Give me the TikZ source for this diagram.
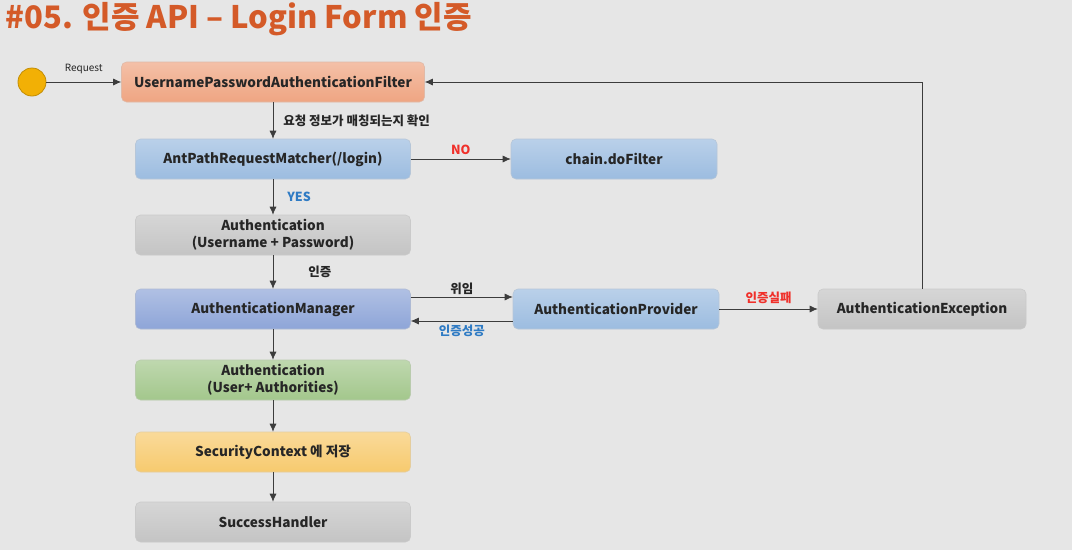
\documentclass[tikz,border=0pt]{standalone}
\usepackage{fontspec}
\setmainfont{Noto Sans CJK KR}
\usetikzlibrary{arrows.meta}
\definecolor{pagebg}{HTML}{E6E6E6}
\definecolor{titleorange}{HTML}{D45A28}
\definecolor{salmon}{HTML}{EFA582}
\definecolor{skyblue}{HTML}{9CBCE0}
\definecolor{violetblue}{HTML}{8EA5D8}
\definecolor{stone}{HTML}{C4C4C4}
\definecolor{leaf}{HTML}{A3C78C}
\definecolor{honey}{HTML}{F7CA6E}
\definecolor{sun}{HTML}{F2B005}
\definecolor{ink}{HTML}{262626}
\definecolor{wire}{HTML}{3C3C3C}
\definecolor{alert}{HTML}{F0302A}
\definecolor{okblue}{HTML}{2F7BC4}

\begin{document}
\begin{tikzpicture}[
    x=1pt, y=-1pt,
    % Box styles
    flow box/.style={
        rectangle,
        rounded corners=5pt,
        minimum width=275pt,
        minimum height=40pt,
        inner sep=0pt,
        align=center,
        font=\fontsize{13.6}{17}\selectfont\bfseries,
        text=ink
    },
    side box/.style={
        flow box,
        minimum width=206pt
    },
    tinted/.style={
        draw=#1!85!black!60,
        line width=0.6pt,
        top color=#1!70!white,
        bottom color=#1
    },
    connector/.style={
        draw=wire,
        line width=0.7pt,
        -{Latex[length=8pt,width=7pt]}
    },
    edge label/.style={
        font=\fontsize{12.5}{14}\selectfont\bfseries,
        text=ink,
        inner sep=1pt
    }
]

% Page and title
\useasboundingbox[fill=pagebg] (0,0) rectangle (1072,550);
\node[anchor=west, font=\fontsize{31}{35}\selectfont\bfseries, text=titleorange]
    (title) at (2,19) {\#05. 인증 API – Login Form 인증};

% Start point
\node[circle, draw=sun!80!black, fill=sun, line width=0.8pt, minimum size=28pt, inner sep=0pt]
    (start) at (32,82) {};

% Main column
\def\colx{273}
\node[flow box, tinted=salmon, minimum width=303pt] (filter) at (\colx,82) {UsernamePasswordAuthenticationFilter};
\node[flow box, tinted=skyblue] (matcher) at (\colx,159) {AntPathRequestMatcher(/login)};
\node[flow box, tinted=stone] (token) at (\colx,235) {Authentication\\(Username + Password)};
\node[flow box, tinted=violetblue] (manager) at (\colx,309) {AuthenticationManager};
\node[flow box, tinted=leaf] (result) at (\colx,380) {Authentication\\(User+ Authorities)};
\node[flow box, tinted=honey] (context) at (\colx,452) {SecurityContext 에 저장};
\node[flow box, tinted=stone] (success) at (\colx,522) {SuccessHandler};

% Side boxes
\node[side box, tinted=skyblue] (dofilter) at (614,159) {chain.doFilter};
\node[side box, tinted=skyblue] (provider) at (616,309) {AuthenticationProvider};
\node[side box, tinted=stone, minimum width=208pt] (failure) at (922,309) {AuthenticationException};

% Connections
\draw[connector] (start) -- node[above=5pt, font=\fontsize{10}{12}\selectfont, text=ink] {Request} (filter);
\draw[connector] (filter) -- node[edge label, right=9pt] {요청 정보가 매칭되는지 확인} (matcher);
\draw[connector] (matcher) -- node[edge label, above=3pt, text=alert] {NO} (dofilter);
\draw[connector] (matcher) -- node[edge label, right=13pt, text=okblue] {YES} (token);
\draw[connector] (token) -- node[edge label, right=34pt] {인증} (manager);
\draw[connector] ([yshift=12pt]manager.east) -- node[edge label, above=1pt] {위임} ([yshift=12pt]provider.west);
\draw[connector] ([yshift=-12pt]provider.west) -- node[edge label, below=3pt, text=okblue] {인증성공} ([yshift=-12pt]manager.east);
\draw[connector] (provider) -- node[edge label, above=4pt, text=alert] {인증실패} (failure);
\draw[connector] (failure.north) |- (filter.east);
\draw[connector] (manager) -- (result);
\draw[connector] (result) -- (context);
\draw[connector] (context) -- (success);

\end{tikzpicture}
\end{document}
